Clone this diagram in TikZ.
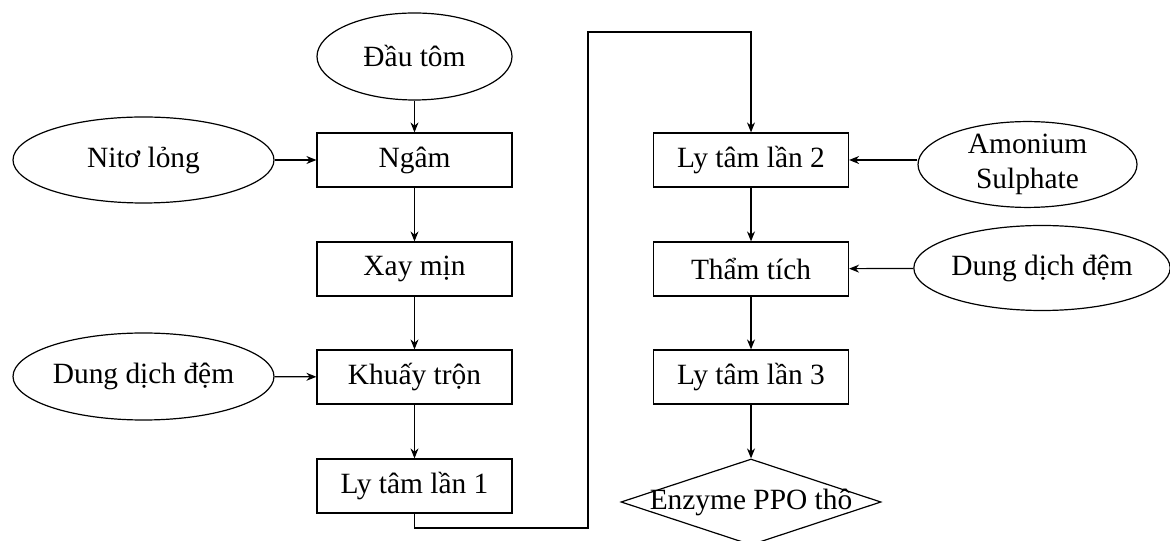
\documentclass[tikz,border=0pt]{standalone}
\usepackage{fontspec}
\setmainfont{Liberation Serif}
\usetikzlibrary{shapes.geometric,arrows.meta}
\begin{document}
\begin{tikzpicture}[x=0.5pt,y=0.5pt,line width=0.6pt,
		font=\fontsize{14.7}{17.5}\selectfont,
		proc/.style={draw,rectangle,minimum width=97.5pt,minimum height=27pt,inner sep=0pt},
		src/.style={draw,ellipse,inner sep=0pt,align=center},
		prod/.style={draw,diamond,minimum width=130pt,minimum height=43pt,inner sep=0pt},
		arr/.style={-{Stealth[length=5pt,width=4pt]}}]
	\useasboundingbox (0,0) rectangle (1170,540);
	% left column
	\node[src,minimum width=97.5pt,minimum height=43.5pt] (dau) at (414.5,483.5) {Đầu tôm};
	\node[proc] (ngam) at (414.5,380) {Ngâm};
	\node[proc] (xay) at (414.5,271) {Xay mịn};
	\node[proc] (khuay) at (414.5,163) {Khuấy trộn};
	\node[proc] (lt1) at (414.5,54) {Ly tâm lần 1};
	\node[src,minimum width=130.5pt,minimum height=43pt] (nito) at (143.5,380) {Nitơ lỏng};
	\node[src,minimum width=130.5pt,minimum height=43.5pt] (ddd1) at (143.5,163.5) {Dung dịch đệm};
	% right column
	\node[proc] (lt2) at (751,380) {Ly tâm lần 2};
	\node[proc] (tham) at (751,271) {Thẩm tích};
	\node[proc] (lt3) at (751,163) {Ly tâm lần 3};
	\node[prod,label=center:{Enzyme PPO thô}] (enz) at (751,38) {};
	\node[src,minimum width=109.5pt,minimum height=38.5pt] (amon) at (1027.5,375.5) {Amonium\\Sulphate};
	\node[src,minimum width=126pt,minimum height=42.5pt] (ddd2) at (1042,272) {Dung dịch đệm};
	\coordinate (turnlow) at (588,12);
	\coordinate (turnhigh) at (588,508);
	% arrows
	\draw[arr] (dau) -- (ngam);
	\draw[arr] (ngam) -- (xay);
	\draw[arr] (xay) -- (khuay);
	\draw[arr] (khuay) -- (lt1);
	\draw[arr] (nito) -- (ngam);
	\draw[arr] (ddd1) -- (khuay);
	\draw[arr] (lt1.south) |- (turnlow) -- (turnhigh) -| (lt2.north);
	\draw[arr] (lt2) -- (tham);
	\draw[arr] (tham) -- (lt3);
	\draw[arr] (lt3) -- (enz);
	\draw[arr] (amon.west |- lt2) -- (lt2);
	\draw[arr] (ddd2) -- (tham);
\end{tikzpicture}
\end{document}
